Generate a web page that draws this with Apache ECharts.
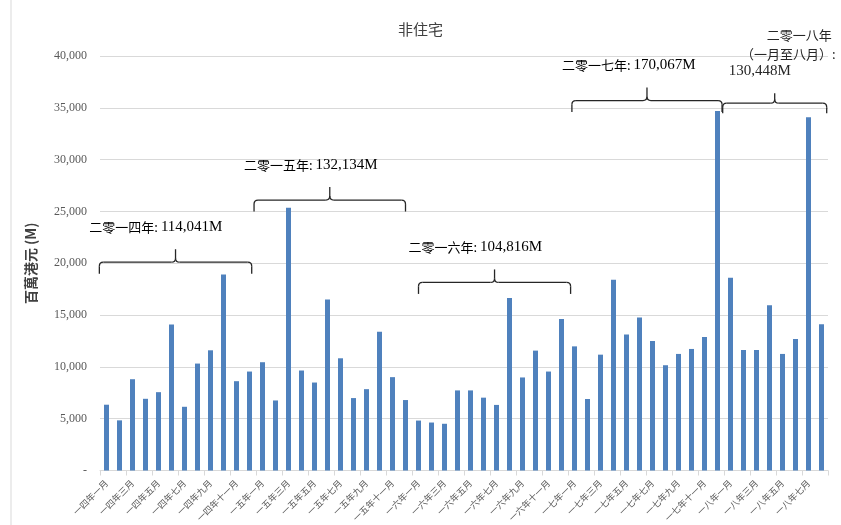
<!DOCTYPE html>
<html lang="zh">

<head>
    <meta charset="UTF-8">
    <title>非住宅</title>
    <script src="https://cdn.jsdelivr.net/npm/echarts@6/dist/echarts.min.js"></script>
    <style>
        html, body { margin: 0; padding: 0; background: #fff; }
        #chart { width: 841px; height: 525px; }
    </style>
</head>

<body>
    <div id="chart"></div>
</body>
<script>
    // 类别：年份 x 月份
    var yearNames = ['一四年', '一五年', '一六年', '一七年', '一八年'];
    var monthNames = ['一月', '二月', '三月', '四月', '五月', '六月', '七月', '八月', '九月', '十月', '十一月', '十二月'];

    // 每月数值（百萬港元）
    var values2014 = [6350, 4840, 8810, 6920, 7560, 14100, 6150, 10320, 11600, 18910, 8620, 9550];
    var values2015 = [10450, 6760, 25350, 9650, 8490, 16510, 10830, 6990, 7850, 13400, 9010, 6800];
    var values2016 = [4820, 4630, 4510, 7730, 7730, 7030, 6330, 16650, 8980, 11570, 9550, 14630];
    var values2017 = [11980, 6900, 11180, 18400, 13130, 14760, 12490, 10160, 11250, 11730, 12880, 34700];
    var values2018 = [18590, 11630, 11630, 15940, 11250, 12680, 34100, 14120];

    // y 轴刻度
    var yMax = 40000;
    var yStep = 5000;

    // 年度注释（括号 + 文本），from/to 为类别位置（可带小数）
    var yearNotes = [
        { text: '二零一四年: ', total: '114,041M', from: -0.55, to: 11.17, level: 20100 },
        { text: '二零一五年: ', total: '132,134M', from: 11.35, to: 23.0, level: 26100 },
        { text: '二零一六年: ', total: '104,816M', from: 24.0, to: 35.7, level: 18150 },
        { text: '二零一七年: ', total: '170,067M', from: 35.8, to: 47.35, level: 35700 }
    ];
    var note2018 = { lines: ['二零一八年', '（一月至八月）:'], total: '130,448M', from: 47.4, to: 55.4, level: 35450 };

    var allValues = values2014.concat(values2015, values2016, values2017, values2018);
    var categories = [];
    for (var i = 0; i < allValues.length; i++) {
        categories.push(yearNames[Math.floor(i / 12)] + monthNames[i % 12]);
    }

    var chart = echarts.init(document.getElementById('chart'));
    var option = {
        animation: false,
        title: {
            text: '非住宅',
            left: 'center',
            top: 17,
            textStyle: { fontSize: 15, fontWeight: 'normal', color: '#404040', fontFamily: 'Noto Sans CJK TC' }
        },
        grid: { left: 100, right: 13, top: 56, bottom: 54 },
        xAxis: {
            type: 'category',
            data: categories,
            axisLine: { lineStyle: { color: '#d9d9d9' } },
            axisTick: { show: true, interval: 1, length: 5, lineStyle: { color: '#d9d9d9' } },
            axisLabel: {
                interval: 1,
                rotate: 45,
                fontSize: 9,
                margin: 11,
                color: '#595959',
                fontFamily: 'Noto Sans CJK TC'
            }
        },
        yAxis: {
            type: 'value',
            min: 0,
            max: yMax,
            interval: yStep,
            name: '百萬港元 (M)',
            nameLocation: 'middle',
            nameGap: 62,
            nameTextStyle: { fontSize: 14, color: '#404040', fontFamily: 'Noto Sans CJK TC', fontWeight: 'bold' },
            axisLine: { show: false },
            axisTick: { show: false },
            splitLine: { lineStyle: { color: '#d9d9d9' } },
            axisLabel: {
                margin: 13,
                fontSize: 12,
                color: '#595959',
                fontFamily: 'Liberation Serif',
                formatter: function (v) {
                    if (v === 0) return '-';
                    return String(v).replace(/\B(?=(\d{3})+(?!\d))/g, ',');
                }
            }
        },
        series: [{
            type: 'bar',
            data: allValues,
            barWidth: 5,
            itemStyle: { color: '#4f81bd' }
        }]
    };
    chart.setOption(option);

    var braceStyle = { fill: null, stroke: '#262626', lineWidth: 1.3 };

    // 括号：两端向下，中间向上
    function brace(x1, x2, y, arm, peak) {
        var xm = (x1 + x2) / 2;
        var r = 4;
        return {
            type: 'group',
            children: [
                { type: 'line', shape: { x1: x1, y1: y + arm, x2: x1, y2: y + r }, style: braceStyle },
                { type: 'bezierCurve', shape: { x1: x1, y1: y + r, cpx1: x1, cpy1: y, x2: x1 + r, y2: y }, style: braceStyle },
                { type: 'line', shape: { x1: x1 + r, y1: y, x2: xm - r, y2: y }, style: braceStyle },
                { type: 'bezierCurve', shape: { x1: xm - r, y1: y, cpx1: xm, cpy1: y, x2: xm, y2: y - r }, style: braceStyle },
                { type: 'line', shape: { x1: xm, y1: y - r, x2: xm, y2: y - peak }, style: braceStyle },
                { type: 'bezierCurve', shape: { x1: xm, y1: y - r, cpx1: xm, cpy1: y, x2: xm + r, y2: y }, style: braceStyle },
                { type: 'line', shape: { x1: xm + r, y1: y, x2: x2 - r, y2: y }, style: braceStyle },
                { type: 'bezierCurve', shape: { x1: x2 - r, y1: y, cpx1: x2, cpy1: y, x2: x2, y2: y + r }, style: braceStyle },
                { type: 'line', shape: { x1: x2, y1: y + r, x2: x2, y2: y + arm }, style: braceStyle }
            ]
        };
    }

    // 类别位置（可带小数）转像素
    function px(pos, val) {
        var p0 = chart.convertToPixel({ xAxisIndex: 0, yAxisIndex: 0 }, [0, val]);
        var p1 = chart.convertToPixel({ xAxisIndex: 0, yAxisIndex: 0 }, [1, val]);
        return [p0[0] + pos * (p1[0] - p0[0]), p0[1]];
    }

    var rich = {
        cjk: { fontSize: 13, fontFamily: 'Noto Sans CJK TC', color: '#262626' },
        num: { fontSize: 15, fontFamily: 'Liberation Serif', color: '#262626' }
    };

    var graphics = [{
        type: 'line',
        shape: { x1: 11, y1: 0, x2: 11, y2: 525 },
        style: { stroke: '#d9d9d9', lineWidth: 1 }
    }];

    yearNotes.forEach(function (n) {
        var a = px(n.from, n.level);
        var b = px(n.to, n.level);
        var x1 = a[0], x2 = b[0], y = a[1];
        graphics.push(brace(x1, x2, y, 11.5, 13));
        graphics.push({
            type: 'text',
            x: x1 - 10,
            y: y - 35,
            style: {
                text: '{cjk|' + n.text + '}{num|' + n.total + '}',
                rich: rich,
                verticalAlign: 'middle'
            }
        });
    });

    var a8 = px(note2018.from, note2018.level);
    var b8 = px(note2018.to, note2018.level);
    var x18 = a8[0], x28 = b8[0], y8 = a8[1];
    graphics.push(brace(x18, x28, y8, 10, 10));
    graphics.push({
        type: 'text', x: x28 + 5, y: y8 - 68,
        style: { text: note2018.lines[0], fontSize: 13, fontFamily: 'Noto Sans CJK TC', fill: '#262626', align: 'right', verticalAlign: 'middle' }
    });
    graphics.push({
        type: 'text', x: x28 + 9, y: y8 - 49,
        style: { text: note2018.lines[1], fontSize: 13, fontFamily: 'Noto Sans CJK TC', fill: '#262626', align: 'right', verticalAlign: 'middle' }
    });
    graphics.push({
        type: 'text', x: x18 + 6, y: y8 - 32,
        style: { text: note2018.total, fontSize: 15, fontFamily: 'Liberation Serif', fill: '#262626', verticalAlign: 'middle' }
    });

    chart.setOption({ graphic: graphics });
</script>

</html>
